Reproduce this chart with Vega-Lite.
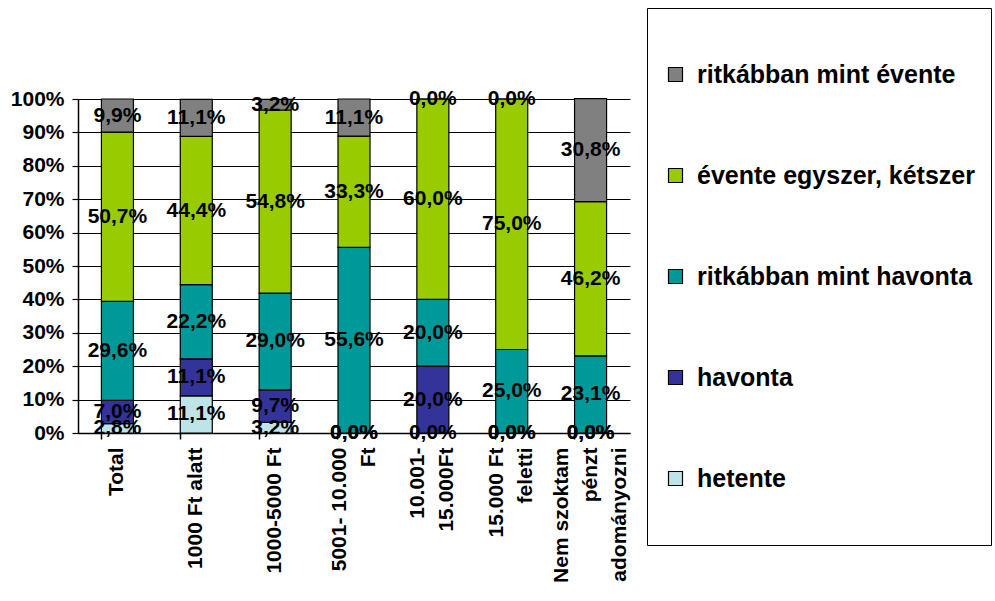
{
  "$schema": "https://vega.github.io/schema/vega-lite/v6.json",
  "width": 552,
  "height": 334,
  "autosize": {"type": "none"},
  "padding": {"left": 78, "top": 99, "right": 365, "bottom": 168},
  "background": "white",
  "config": {
    "font": "Liberation Sans",
    "view": {"stroke": null},
    "locale": {
      "number": {"decimal": ",", "thousands": " ", "grouping": [3], "currency": ["", " Ft"]}
    },
    "axisY": {
      "title": null,
      "format": ".0%",
      "values": [0, 0.1, 0.2, 0.3, 0.4, 0.5, 0.6, 0.7, 0.8, 0.9, 1],
      "labelOverlap": false,
      "labelFont": "Liberation Sans",
      "labelFontSize": 21,
      "labelFontWeight": "bold",
      "labelColor": "black",
      "labelPadding": 8,
      "grid": true,
      "gridColor": "black",
      "gridWidth": 1.2,
      "gridOpacity": 1,
      "domainColor": "black",
      "domainWidth": 1.5,
      "tickColor": "black",
      "tickWidth": 1.2,
      "tickSize": 6
    }
  },
  "data": {
    "values": [
      {"kategoria": "Total", "gyakorisag": "hetente", "rend": 1, "arany": 0.028},
      {"kategoria": "Total", "gyakorisag": "havonta", "rend": 2, "arany": 0.070},
      {"kategoria": "Total", "gyakorisag": "ritkábban mint havonta", "rend": 3, "arany": 0.296},
      {"kategoria": "Total", "gyakorisag": "évente egyszer, kétszer", "rend": 4, "arany": 0.507},
      {"kategoria": "Total", "gyakorisag": "ritkábban mint évente", "rend": 5, "arany": 0.099},

      {"kategoria": "1000 Ft alatt", "gyakorisag": "hetente", "rend": 1, "arany": 0.111},
      {"kategoria": "1000 Ft alatt", "gyakorisag": "havonta", "rend": 2, "arany": 0.111},
      {"kategoria": "1000 Ft alatt", "gyakorisag": "ritkábban mint havonta", "rend": 3, "arany": 0.222},
      {"kategoria": "1000 Ft alatt", "gyakorisag": "évente egyszer, kétszer", "rend": 4, "arany": 0.444},
      {"kategoria": "1000 Ft alatt", "gyakorisag": "ritkábban mint évente", "rend": 5, "arany": 0.111},

      {"kategoria": "1000-5000 Ft", "gyakorisag": "hetente", "rend": 1, "arany": 0.032},
      {"kategoria": "1000-5000 Ft", "gyakorisag": "havonta", "rend": 2, "arany": 0.097},
      {"kategoria": "1000-5000 Ft", "gyakorisag": "ritkábban mint havonta", "rend": 3, "arany": 0.290},
      {"kategoria": "1000-5000 Ft", "gyakorisag": "évente egyszer, kétszer", "rend": 4, "arany": 0.548},
      {"kategoria": "1000-5000 Ft", "gyakorisag": "ritkábban mint évente", "rend": 5, "arany": 0.032},

      {"kategoria": "5001- 10.000 Ft", "gyakorisag": "hetente", "rend": 1, "arany": 0.0},
      {"kategoria": "5001- 10.000 Ft", "gyakorisag": "havonta", "rend": 2, "arany": 0.0},
      {"kategoria": "5001- 10.000 Ft", "gyakorisag": "ritkábban mint havonta", "rend": 3, "arany": 0.556},
      {"kategoria": "5001- 10.000 Ft", "gyakorisag": "évente egyszer, kétszer", "rend": 4, "arany": 0.333},
      {"kategoria": "5001- 10.000 Ft", "gyakorisag": "ritkábban mint évente", "rend": 5, "arany": 0.111},

      {"kategoria": "10.001- 15.000Ft", "gyakorisag": "hetente", "rend": 1, "arany": 0.0},
      {"kategoria": "10.001- 15.000Ft", "gyakorisag": "havonta", "rend": 2, "arany": 0.200},
      {"kategoria": "10.001- 15.000Ft", "gyakorisag": "ritkábban mint havonta", "rend": 3, "arany": 0.200},
      {"kategoria": "10.001- 15.000Ft", "gyakorisag": "évente egyszer, kétszer", "rend": 4, "arany": 0.600},
      {"kategoria": "10.001- 15.000Ft", "gyakorisag": "ritkábban mint évente", "rend": 5, "arany": 0.0},

      {"kategoria": "15.000 Ft feletti", "gyakorisag": "hetente", "rend": 1, "arany": 0.0},
      {"kategoria": "15.000 Ft feletti", "gyakorisag": "havonta", "rend": 2, "arany": 0.0},
      {"kategoria": "15.000 Ft feletti", "gyakorisag": "ritkábban mint havonta", "rend": 3, "arany": 0.250},
      {"kategoria": "15.000 Ft feletti", "gyakorisag": "évente egyszer, kétszer", "rend": 4, "arany": 0.750},
      {"kategoria": "15.000 Ft feletti", "gyakorisag": "ritkábban mint évente", "rend": 5, "arany": 0.0},

      {"kategoria": "Nem szoktam pénzt adományozni", "gyakorisag": "hetente", "rend": 1, "arany": 0.0},
      {"kategoria": "Nem szoktam pénzt adományozni", "gyakorisag": "havonta", "rend": 2, "arany": 0.0},
      {"kategoria": "Nem szoktam pénzt adományozni", "gyakorisag": "ritkábban mint havonta", "rend": 3, "arany": 0.231},
      {"kategoria": "Nem szoktam pénzt adományozni", "gyakorisag": "évente egyszer, kétszer", "rend": 4, "arany": 0.462},
      {"kategoria": "Nem szoktam pénzt adományozni", "gyakorisag": "ritkábban mint évente", "rend": 5, "arany": 0.308}
    ]
  },
  "encoding": {
    "x": {
      "field": "kategoria",
      "type": "nominal",
      "sort": null,
      "scale": {"paddingInner": 0.594, "paddingOuter": 0.297},
      "axis": {
        "title": null,
        "labelAngle": -90,
        "labelAlign": "right",
        "labelBaseline": "middle",
        "labelFont": "Liberation Sans",
        "labelFontSize": 21,
        "labelFontWeight": "bold",
        "labelColor": "black",
        "labelPadding": 8,
        "labelLineHeight": 29,
        "labelOffset": {"expr": "datum.value == 'Nem szoktam pénzt adományozni' ? -29 : (datum.value == 'Total' || datum.value == '1000 Ft alatt' || datum.value == '1000-5000 Ft') ? 0 : -14.5"},
        "labelExpr": "datum.value == '5001- 10.000 Ft' ? ['5001- 10.000', 'Ft'] : datum.value == '10.001- 15.000Ft' ? ['10.001-', '15.000Ft'] : datum.value == '15.000 Ft feletti' ? ['15.000 Ft', 'feletti'] : datum.value == 'Nem szoktam pénzt adományozni' ? ['Nem szoktam', 'pénzt', 'adományozni'] : datum.value",
        "bandPosition": 0,
        "domainColor": "black",
        "domainWidth": 1.5,
        "tickColor": "black",
        "tickWidth": 1.5,
        "tickSize": 6,
        "grid": false
      }
    }
  },
  "layer": [
    {
      "mark": {"type": "bar", "stroke": "black", "strokeWidth": 1.2},
      "encoding": {
        "y": {
          "field": "arany",
          "type": "quantitative",
          "stack": "zero",
          "scale": {"domain": [0, 1], "nice": false}
        },
        "color": {
          "field": "gyakorisag",
          "type": "nominal",
          "scale": {
            "domain": ["ritkábban mint évente", "évente egyszer, kétszer", "ritkábban mint havonta", "havonta", "hetente"],
            "range": ["#808080", "#99CC00", "#009999", "#333399", "#BDE4E8"]
          },
          "legend": {
            "title": null,
            "orient": "none",
            "legendX": 569,
            "legendY": -91,
            "direction": "vertical",
            "symbolType": "square",
            "symbolSize": 196,
            "symbolStrokeColor": "black",
            "symbolStrokeWidth": 1.2,
            "symbolOpacity": 1,
            "labelFont": "Liberation Sans",
            "labelFontSize": 25,
            "labelFontWeight": "bold",
            "labelColor": "black",
            "labelLimit": 400,
            "labelOffset": 9,
            "clipHeight": 101,
            "rowPadding": 0,
            "padding": 16,
            "offset": 0,
            "strokeColor": "black",
            "fillColor": "white"
          }
        },
        "order": {"field": "rend", "type": "quantitative"}
      }
    },
    {
      "mark": {
        "type": "text",
        "font": "Liberation Sans",
        "fontSize": 21,
        "fontWeight": "bold",
        "color": "black",
        "baseline": "middle",
        "align": "center"
      },
      "encoding": {
        "y": {
          "field": "arany",
          "type": "quantitative",
          "stack": "zero",
          "bandPosition": 0.5
        },
        "detail": {"field": "gyakorisag", "type": "nominal"},
        "order": {"field": "rend", "type": "quantitative"},
        "text": {"field": "arany", "type": "quantitative", "format": ".1%"}
      }
    }
  ]
}
